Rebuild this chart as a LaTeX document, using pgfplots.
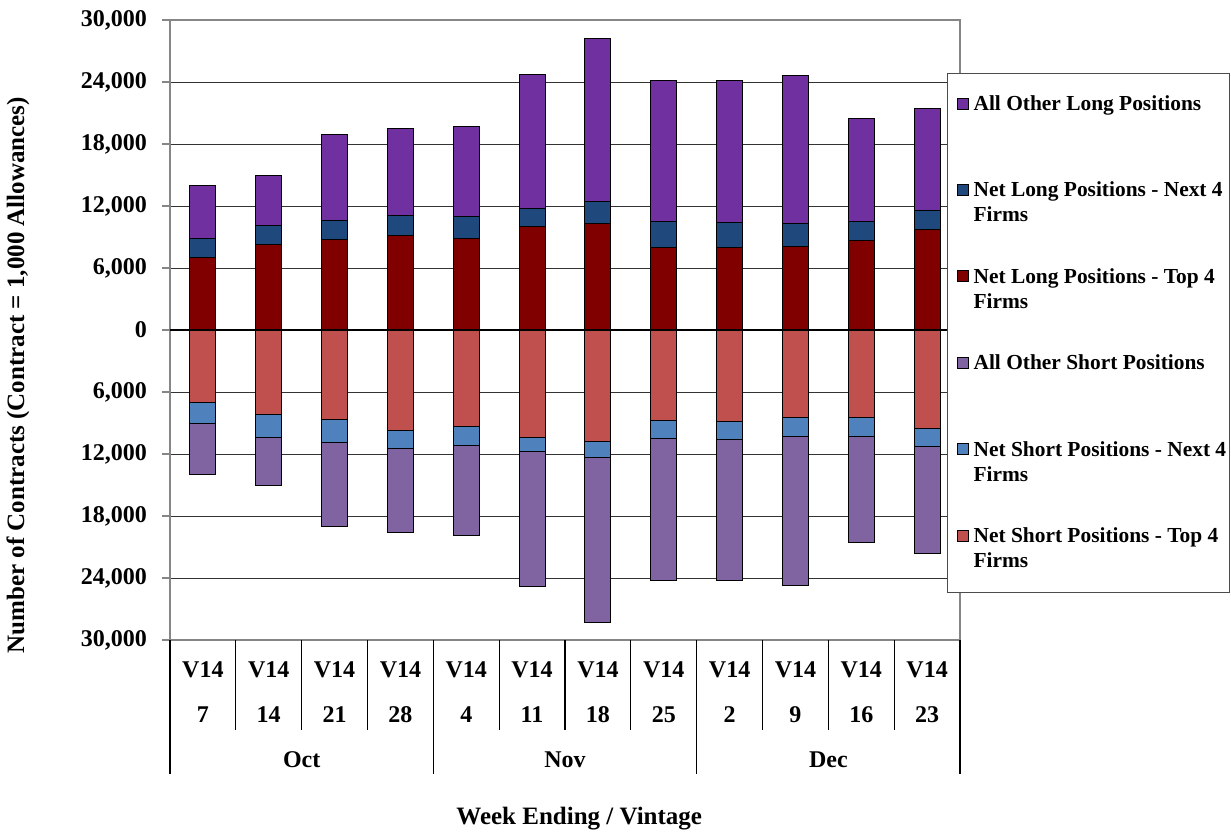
\documentclass[border=0pt]{standalone}
\usepackage{pgfplots}
\pgfplotsset{compat=1.18}
\usepackage{fontspec}
\setmainfont{Liberation Serif}
\definecolor{otherlong}{RGB}{112,48,160}
\definecolor{nextlong}{RGB}{31,73,125}
\definecolor{toplong}{RGB}{128,0,0}
\definecolor{othershort}{RGB}{128,100,162}
\definecolor{nextshort}{RGB}{79,129,189}
\definecolor{topshort}{RGB}{192,80,77}
\definecolor{framegray}{RGB}{134,134,134}
\pgfplotsset{
  myleg/.style={legend image code/.code={\path (0pt,0pt) (9pt,0pt); \draw[##1] (3.5pt,34.95pt) rectangle (9pt,40.45pt);}},
  myleglast/.style={legend image code/.code={\path (0pt,0pt) (9pt,0pt); \draw[##1] (3.5pt,13pt) rectangle (9pt,18.5pt);}}}
\newcommand{\lgA}[1]{\parbox[b][41.7pt][t]{127pt}{\raggedright #1}}
\newcommand{\lgB}[1]{\parbox[b]{127pt}{\raggedright #1}}
\newcommand{\bigf}{\bfseries\fontsize{12}{14}\selectfont}
\begin{document}
\begin{tikzpicture}
\begin{axis}[
  scale only axis, width=395pt, height=310pt,
  xmin=-0.5, xmax=11.5, ymin=-30000, ymax=30000,
  ybar, bar width=13pt, bar shift=0pt,
  xtick=\empty,
  ytick={-30000,-24000,-18000,-12000,-6000,0,6000,12000,18000,24000,30000},
  yticklabels={{30,000},{24,000},{18,000},{12,000},{6,000},0,{6,000},{12,000},{18,000},{24,000},{30,000}},
  ytick pos=left,
  tick align=outside, major tick length=4pt,
  ytick style={framegray, line width=0.6pt},
  ymajorgrids, grid style={black!80, line width=0.5pt},
  axis line style={framegray, line width=1pt},
  yticklabel style={font=\bigf, xshift=-4pt},
  scaled y ticks=false,
  clip=false,
  legend style={at={(rel axis cs:0.9835,0.9145)}, anchor=north west, draw=black!70, line width=0.6pt,
    inner xsep=1pt, inner ysep=11pt, column sep=2.5pt, row sep=0pt,
    font=\bfseries\fontsize{10.7}{12.5}\selectfont,
    nodes={inner sep=0pt}, cells={anchor=base west}},
]
\addplot[fill=otherlong, draw=black, line width=0.5pt, myleg] coordinates {
(0,13960) (1,14970) (2,18900) (3,19480) (4,19740) (5,24740) (6,28230) (7,24160) (8,24130) (9,24610) (10,20450) (11,21450)};
\addlegendentry{\lgA{All Other Long Positions}}
\addplot[fill=nextlong, draw=black, line width=0.5pt, myleg] coordinates {
(0,8810) (1,10100) (2,10600) (3,11100) (4,11000) (5,11800) (6,12450) (7,10480) (8,10450) (9,10260) (10,10520) (11,11520)};
\addlegendentry{\lgA{Net Long Positions - Next 4\\Firms}}
\addplot[fill=toplong, draw=black, line width=0.5pt, myleg] coordinates {
(0,7030) (1,8230) (2,8740) (3,9130) (4,8900) (5,10060) (6,10290) (7,7940) (8,7970) (9,8100) (10,8650) (11,9680)};
\addlegendentry{\lgA{Net Long Positions - Top 4\\Firms}}
\addplot[fill=othershort, draw=black, line width=0.5pt, myleg] coordinates {
(0,-14030) (1,-15070) (2,-19000) (3,-19550) (4,-19840) (5,-24800) (6,-28320) (7,-24260) (8,-24260) (9,-24740) (10,-20580) (11,-21580)};
\addlegendentry{\lgA{All Other Short Positions}}
\addplot[fill=nextshort, draw=black, line width=0.5pt, myleg] coordinates {
(0,-9030) (1,-10420) (2,-10870) (3,-11480) (4,-11130) (5,-11710) (6,-12320) (7,-10520) (8,-10580) (9,-10320) (10,-10320) (11,-11290)};
\addlegendentry{\lgA{Net Short Positions - Next 4\\Firms}}
\addplot[fill=topshort, draw=black, line width=0.5pt, myleglast] coordinates {
(0,-7000) (1,-8200) (2,-8650) (3,-9740) (4,-9350) (5,-10420) (6,-10800) (7,-8770) (8,-8840) (9,-8480) (10,-8420) (11,-9550)};
\addlegendentry{\lgB{Net Short Positions - Top 4\\Firms}}
\draw[black, line width=0.9pt] (axis cs:-0.5,0) -- (axis cs:11.5,0);
\pgfplotsinvokeforeach{0.5,1.5,2.5,4.5,5.5,6.5,8.5,9.5,10.5}{
  \draw[black, line width=0.6pt] (axis cs:#1,-30000) -- ([yshift=-45pt]axis cs:#1,-30000);}
\pgfplotsinvokeforeach{-0.5,3.5,7.5,11.5}{
  \draw[black, line width=0.6pt] (axis cs:#1,-30000) -- ([yshift=-67pt]axis cs:#1,-30000);}
\pgfplotsinvokeforeach{0,...,11}{
  \node[font=\bigf, yshift=-15pt] at (axis cs:#1,-30000) {V14};}
\node[font=\bigf, yshift=-37.5pt] at (axis cs:0,-30000) {7};
\node[font=\bigf, yshift=-37.5pt] at (axis cs:1,-30000) {14};
\node[font=\bigf, yshift=-37.5pt] at (axis cs:2,-30000) {21};
\node[font=\bigf, yshift=-37.5pt] at (axis cs:3,-30000) {28};
\node[font=\bigf, yshift=-37.5pt] at (axis cs:4,-30000) {4};
\node[font=\bigf, yshift=-37.5pt] at (axis cs:5,-30000) {11};
\node[font=\bigf, yshift=-37.5pt] at (axis cs:6,-30000) {18};
\node[font=\bigf, yshift=-37.5pt] at (axis cs:7,-30000) {25};
\node[font=\bigf, yshift=-37.5pt] at (axis cs:8,-30000) {2};
\node[font=\bigf, yshift=-37.5pt] at (axis cs:9,-30000) {9};
\node[font=\bigf, yshift=-37.5pt] at (axis cs:10,-30000) {16};
\node[font=\bigf, yshift=-37.5pt] at (axis cs:11,-30000) {23};
\node[font=\bigf, yshift=-60pt] at (axis cs:1.5,-30000) {Oct};
\node[font=\bigf, yshift=-60pt] at (axis cs:5.5,-30000) {Nov};
\node[font=\bigf, yshift=-60pt] at (axis cs:9.5,-30000) {Dec};
\node[font=\bfseries\fontsize{12.5}{15}\selectfont, yshift=-89.5pt] at (rel axis cs:0.518,0) {Week Ending / Vintage};
\node[font=\bfseries\fontsize{12.5}{15}\selectfont, rotate=90] at ([xshift=-76pt]rel axis cs:0,0.427) {Number of Contracts (Contract = 1,000 Allowances)};
\end{axis}
\pgfresetboundingbox
\path[use as bounding box] ([shift={(-85pt,-95.5pt)}]current axis.south west) rectangle ([shift={(135.5pt,10pt)}]current axis.north east);
\end{tikzpicture}
\end{document}
